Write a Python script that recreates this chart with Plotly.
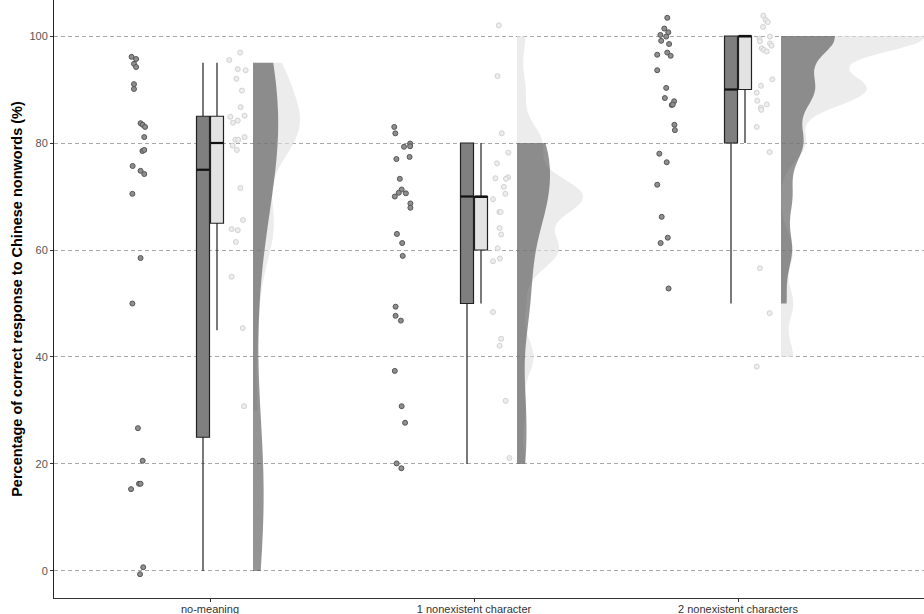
import numpy as np
import plotly.graph_objects as go

categories = ["no-meaning", "1 nonexistent character", "2 nonexistent characters"]
y_ticks = [0, 20, 40, 60, 80, 100]

# ---- raw scores (for densities) ----
dark_scores = [
    [95, 95, 95, 95, 90, 90, 85, 85, 85, 80, 80, 80, 75, 75, 75, 70, 60, 50, 25, 20, 15, 15, 15, 0, 0],
    [80, 80, 80, 80, 80, 80, 80, 70, 70, 70, 70, 70, 70, 70, 60, 60, 60, 50, 50, 50, 40, 30, 30, 20, 20],
    [100, 100, 100, 100, 100, 100, 100, 100, 100, 100, 90, 90, 90, 90, 90, 90, 80, 80, 80, 80, 70, 70, 60, 60, 50],
]
light_scores = [
    [95, 95, 95, 95, 90, 90, 85, 85, 85, 85, 85, 80, 80, 80, 80, 80, 70, 65, 65, 65, 60, 55, 45, 30],
    [80, 80, 80, 70, 70, 70, 70, 70, 70, 70, 70, 60, 60, 60, 60, 60, 50, 40, 40, 30, 20, 100, 90],
    [100, 100, 100, 100, 100, 100, 100, 100, 100, 100, 90, 90, 90, 90, 90, 90, 90, 80, 80, 60, 50, 40, 100, 100],
]

# ---- jittered point positions as seen (y value, horizontal offset from category) ----
dark_pts_y = [
    [96.1, 95.7, 94.8, 94.2, 91.0, 90.1, 83.7, 83.4, 83.0, 81.1, 78.5, 78.7, 75.7, 74.8, 74.2, 70.5, 58.5, 50.0, 26.7, 20.6, 15.3, 16.3, 16.3, 0.7, -0.6],
    [83.0, 81.8, 79.3, 79.9, 79.4, 77.4, 77.0, 73.3, 71.3, 70.0, 70.7, 70.6, 68.7, 67.9, 63.0, 61.3, 58.9, 49.4, 47.7, 46.8, 37.4, 30.8, 27.7, 20.1, 19.2],
    [103.4, 101.4, 100.7, 100.2, 99.9, 99.1, 98.5, 96.5, 96.9, 96.3, 93.6, 90.3, 88.4, 87.8, 87.1, 87.2, 83.4, 82.4, 78.0, 76.4, 72.2, 66.2, 62.3, 61.3, 52.8],
]
dark_pts_dx = [
    [-0.297, -0.280, -0.288, -0.280, -0.288, -0.288, -0.263, -0.255, -0.246, -0.249, -0.256, -0.249, -0.293, -0.263, -0.249, -0.294, -0.263, -0.294, -0.273, -0.255, -0.299, -0.269, -0.263, -0.253, -0.265],
    [-0.302, -0.298, -0.265, -0.242, -0.242, -0.244, -0.294, -0.281, -0.274, -0.300, -0.285, -0.258, -0.241, -0.241, -0.292, -0.272, -0.270, -0.297, -0.297, -0.277, -0.300, -0.274, -0.261, -0.293, -0.275],
    [-0.268, -0.279, -0.264, -0.294, -0.272, -0.291, -0.261, -0.306, -0.268, -0.255, -0.306, -0.272, -0.277, -0.242, -0.251, -0.247, -0.241, -0.239, -0.298, -0.270, -0.306, -0.289, -0.266, -0.293, -0.263],
]
light_pts_y = [
    [96.9, 95.5, 93.8, 93.6, 92.0, 89.8, 86.7, 85.1, 84.9, 83.8, 84.2, 80.6, 80.6, 81.1, 79.5, 78.7, 71.6, 65.6, 63.9, 63.7, 61.5, 55.0, 45.4, 30.8],
    [81.8, 78.2, 76.2, 73.4, 73.6, 73.3, 71.8, 70.5, 69.5, 67.1, 67.1, 64.1, 62.9, 60.3, 57.9, 58.4, 48.4, 43.4, 42.1, 31.8, 21.1, 102.0, 92.5],
    [103.8, 103.0, 101.7, 99.5, 99.9, 99.0, 98.6, 97.7, 97.4, 97.1, 91.9, 90.7, 89.4, 87.9, 87.2, 86.6, 86.2, 83.0, 78.3, 56.6, 48.2, 38.2, 102.6, 98.2],
]
light_pts_dx = [
    [0.114, 0.073, 0.105, 0.135, 0.100, 0.121, 0.116, 0.131, 0.077, 0.087, 0.105, 0.096, 0.107, 0.131, 0.086, 0.102, 0.115, 0.125, 0.082, 0.105, 0.098, 0.082, 0.124, 0.129],
    [0.105, 0.130, 0.087, 0.081, 0.129, 0.121, 0.113, 0.119, 0.072, 0.096, 0.101, 0.097, 0.103, 0.090, 0.072, 0.098, 0.072, 0.103, 0.097, 0.120, 0.134, 0.094, 0.089],
    [0.096, 0.105, 0.095, 0.081, 0.121, 0.083, 0.121, 0.090, 0.098, 0.109, 0.130, 0.087, 0.071, 0.073, 0.109, 0.087, 0.088, 0.071, 0.120, 0.083, 0.120, 0.071, 0.113, 0.127],
]

# ---- box statistics ----
dark_q1 = [25, 50, 80]
dark_med = [75, 70, 90]
dark_q3 = [85, 80, 100]
dark_lo = [0, 20, 50]
dark_hi = [95, 80, 100]
light_q1 = [65, 60, 90]
light_med = [80, 70, 100]
light_q3 = [85, 70, 100]
light_lo = [45, 50, 80]
light_hi = [95, 80, 100]

# ---- styling ----
PX = 264.0  # pixels per category unit
cat_x = np.arange(1, len(categories) + 1)
box_off = 7 / PX
box_w = 13 / PX
vio_off = 43 / PX
dark_vio_px = [25, 33, 54]
light_vio_px = [47, 66, 145]
dark_bw = [14.0, 6.5, 3.8]
light_bw = [5.5, 3.6, 3.3]

DARK_BOX = "#7f7f7f"
LIGHT_BOX = "#e3e3e3"
EDGE = "#222222"

fig = go.Figure()

# light violins underneath
for i, c in enumerate(cat_x):
    fig.add_trace(go.Violin(
        y=light_scores[i], x0=c + vio_off, side="positive",
        width=2 * light_vio_px[i] / PX, bandwidth=light_bw[i],
        spanmode="hard", points=False, scalemode="width",
        fillcolor="rgba(224,224,224,0.62)", line=dict(width=0, color="rgba(0,0,0,0)"),
        hoverinfo="skip", showlegend=False, orientation="v"))
# dark violins on top, semi-transparent
for i, c in enumerate(cat_x):
    fig.add_trace(go.Violin(
        y=dark_scores[i], x0=c + vio_off, side="positive",
        width=2 * dark_vio_px[i] / PX, bandwidth=dark_bw[i],
        spanmode="hard", points=False, scalemode="width",
        fillcolor="rgba(64,64,64,0.56)", line=dict(width=0, color="rgba(0,0,0,0)"),
        hoverinfo="skip", showlegend=False, orientation="v"))

# boxes
fig.add_trace(go.Box(
    x=cat_x - box_off, q1=dark_q1, median=dark_med, q3=dark_q3,
    lowerfence=dark_lo, upperfence=dark_hi, width=box_w, whiskerwidth=0,
    fillcolor=DARK_BOX, line=dict(color=EDGE, width=1.2), boxpoints=False,
    hoverinfo="skip", showlegend=False))
fig.add_trace(go.Box(
    x=cat_x + box_off, q1=light_q1, median=light_med, q3=light_q3,
    lowerfence=light_lo, upperfence=light_hi, width=box_w, whiskerwidth=0,
    fillcolor=LIGHT_BOX, line=dict(color=EDGE, width=1.2), boxpoints=False,
    hoverinfo="skip", showlegend=False))

# thicker median segments
for q_med, sign in ((dark_med, -1), (light_med, 1)):
    xs, ys = [], []
    for i, c in enumerate(cat_x):
        cx = c + sign * box_off
        xs += [cx - box_w / 2, cx + box_w / 2, None]
        ys += [q_med[i], q_med[i], None]
    fig.add_trace(go.Scatter(x=xs, y=ys, mode="lines", line=dict(color="#111111", width=2.2),
                             hoverinfo="skip", showlegend=False))

# jittered points
for i, c in enumerate(cat_x):
    fig.add_trace(go.Scatter(
        x=c + np.array(dark_pts_dx[i]), y=dark_pts_y[i], mode="markers",
        marker=dict(size=5, color="#8f8f8f", line=dict(color="#555555", width=1)),
        hoverinfo="skip", showlegend=False))
    fig.add_trace(go.Scatter(
        x=c + np.array(light_pts_dx[i]), y=light_pts_y[i], mode="markers",
        marker=dict(size=5, color="#ededed", line=dict(color="#d2d2d2", width=1)),
        hoverinfo="skip", showlegend=False))

fig.update_layout(
    width=924, height=614,
    margin=dict(l=54, r=0, t=0, b=16),
    plot_bgcolor="white", paper_bgcolor="white",
    violinmode="overlay", boxmode="overlay", showlegend=False,
    font=dict(family="Liberation Sans, Arial, sans-serif", color="#333333"),
)
fig.update_xaxes(
    range=[1 - 156 / PX, 3 + 186 / PX], tickvals=list(cat_x), ticktext=categories,
    showgrid=False, zeroline=False, showline=True, linecolor="#333333", linewidth=1,
    ticks="outside", ticklen=3, tickcolor="#333333", tickfont=dict(size=11, color="#333333"),
    automargin=False, ticklabelstandoff=-2,
)
fig.update_yaxes(
    range=[-5.05, 106.73], tickvals=y_ticks,
    showgrid=True, gridcolor="#a8a8a8", gridwidth=1, griddash="4px,3px",
    zeroline=False, showline=True, linecolor="#222222", linewidth=1,
    ticks="outside", ticklen=3, tickcolor="#333333", tickfont=dict(size=11, color="#555555"),
    automargin=False,
    title=dict(text="<b>Percentage of correct response to Chinese nonwords (%)</b>",
               font=dict(size=14.5, color="#000000"), standoff=3),
)

fig.write_html("out.html", config={"displayModeBar": False},
               post_script="document.body.style.margin='0';document.body.style.padding='0';")
